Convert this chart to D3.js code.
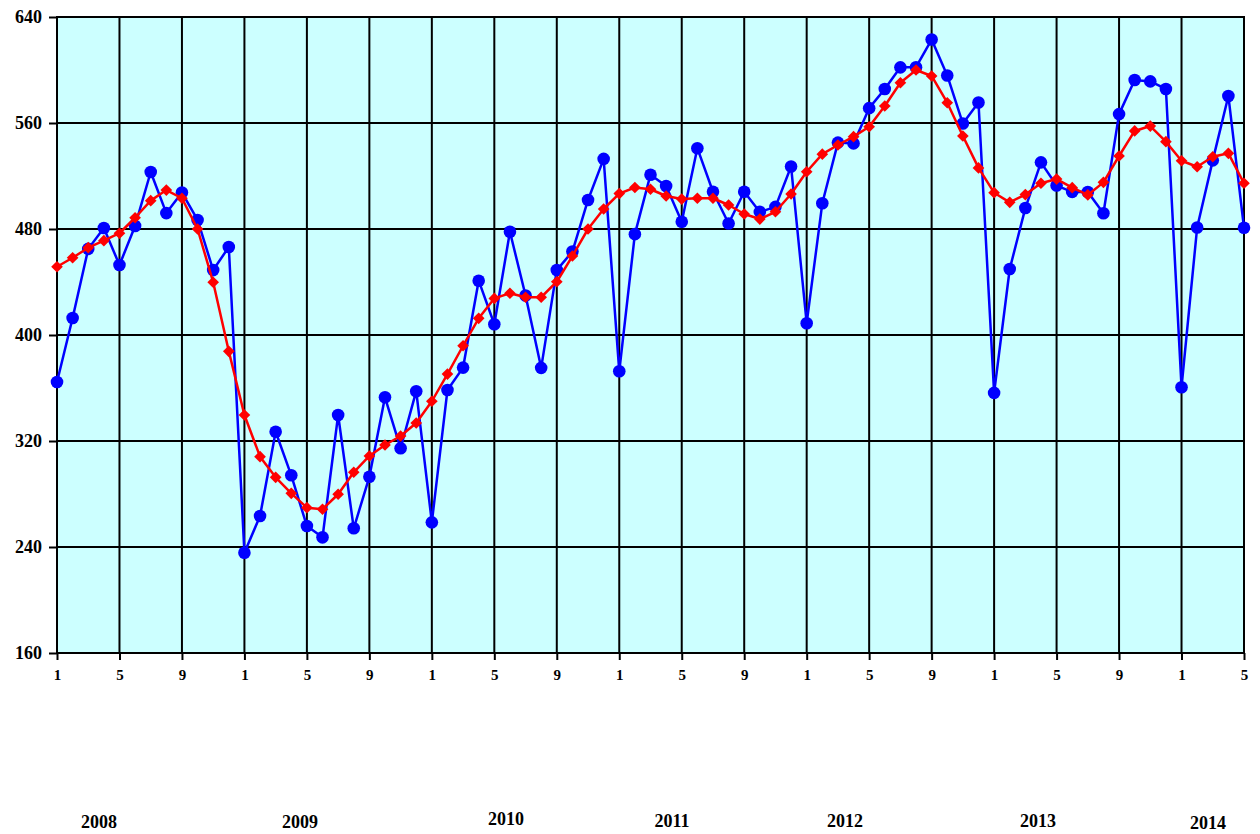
<!DOCTYPE html>
<html>
<head>
<meta charset="utf-8">
<script src="https://cdn.jsdelivr.net/npm/d3@7"></script>
<style>
  html, body { margin: 0; padding: 0; background: #ffffff; }
  svg { display: block; }
  text { font-family: "Liberation Serif", "Times New Roman", serif; font-weight: bold; fill: #000; }
</style>
</head>
<body>
<svg id="chart" width="1260" height="834"></svg>
<script>
// Monthly series, Jan 2008 – May 2014
const years = [2008, 2009, 2010, 2011, 2012, 2013, 2014];
const monthsInYear = [12, 12, 12, 12, 12, 12, 5];

// Monthly values (blue, circles)
const monthly = [
  364.5, 412.8, 465.0, 480.8, 452.8, 482.3, 523.0, 492.0, 507.5, 486.8, 449.0, 466.4,
  235.7, 263.4, 327.0, 294.1, 255.8, 247.3, 339.6, 254.1, 293.0, 353.0, 314.5, 357.6,
  258.6, 358.5, 375.4, 441.0, 408.1, 477.9, 429.8, 375.2, 449.0, 463.0, 501.9, 532.9,
  372.6, 476.1, 521.0, 512.5, 485.5, 541.0, 508.1, 484.1, 508.1, 492.9, 496.7, 527.2,
  408.9, 499.4, 545.2, 544.6, 571.2, 585.7, 602.0, 602.1, 623.0, 595.9, 559.6, 575.5,
  356.3, 449.8, 495.8, 530.3, 512.8, 508.0, 507.9, 491.9, 566.7, 592.5, 591.4, 585.7,
  360.6, 481.1, 531.8, 580.4, 480.9
];

// Smoothed trend (red, diamonds)
const trend = [
  451.5, 458.3, 465.9, 471.2, 476.8, 488.5, 501.4, 509.4, 503.2, 480.0, 439.8, 387.7,
  339.6, 308.2, 292.6, 280.5, 269.7, 268.5, 279.8, 296.4, 308.7, 317.0, 323.8, 333.6,
  350.0, 370.5, 391.9, 412.6, 427.6, 431.5, 428.5, 428.5, 440.2, 459.6, 480.0, 495.1,
  506.7, 511.3, 510.0, 504.9, 502.6, 503.2, 503.2, 498.1, 491.3, 487.5, 493.0, 506.4,
  523.2, 536.5, 543.4, 549.7, 557.2, 572.8, 590.4, 600.0, 595.5, 575.3, 550.2, 526.1,
  507.4, 500.1, 506.0, 514.5, 517.7, 511.2, 505.7, 515.2, 535.1, 554.0, 557.7, 545.9,
  531.5, 527.0, 534.5, 537.1, 514.5
];

const yTicks = [160, 240, 320, 400, 480, 560, 640];
const monthTickLabels = ["1", "5", "9"];

// ---- layout ----
const plot = { left: 57, right: 1244, top: 17, bottom: 653 };
const yearLabelPos = [
  { x: 99, y: 828 }, { x: 300, y: 828 }, { x: 506, y: 825 }, { x: 672, y: 827 },
  { x: 845, y: 827 }, { x: 1038, y: 827 }, { x: 1208, y: 829 }
];

const n = monthly.length;
const x = d3.scaleLinear().domain([0, n - 1]).range([plot.left, plot.right]);
const y = d3.scaleLinear().domain([160, 640]).range([plot.bottom, plot.top]);

const svg = d3.select("#chart");

// plot background
svg.append("rect")
  .attr("x", plot.left).attr("y", plot.top)
  .attr("width", plot.right - plot.left).attr("height", plot.bottom - plot.top)
  .attr("fill", "#ccffff");

// month index → label (every 4th month: 1, 5, 9)
const monthIdx = [];
let k = 0;
years.forEach((yr, yi) => {
  for (let m = 1; m <= monthsInYear[yi]; m++) {
    if (monthTickLabels.includes(String(m))) monthIdx.push({ i: k, label: String(m) });
    k++;
  }
});

// vertical grid
svg.append("g").selectAll("line").data(monthIdx).join("line")
  .attr("x1", d => x(d.i)).attr("x2", d => x(d.i))
  .attr("y1", plot.top).attr("y2", plot.bottom)
  .attr("stroke", "#000").attr("stroke-width", 2);

// horizontal grid
svg.append("g").selectAll("line").data(yTicks).join("line")
  .attr("x1", plot.left).attr("x2", plot.right)
  .attr("y1", d => y(d)).attr("y2", d => y(d))
  .attr("stroke", "#000").attr("stroke-width", 2);

// frame
svg.append("rect")
  .attr("x", plot.left).attr("y", plot.top)
  .attr("width", plot.right - plot.left).attr("height", plot.bottom - plot.top)
  .attr("fill", "none").attr("stroke", "#000").attr("stroke-width", 2);

// y axis
const yAxis = svg.append("g")
  .attr("transform", `translate(${plot.left},0)`)
  .call(d3.axisLeft(y).tickValues(yTicks).tickSize(8).tickPadding(7).tickFormat(d3.format("d")));
yAxis.select(".domain").remove();
yAxis.selectAll(".tick line").attr("stroke", "#000").attr("stroke-width", 2);
yAxis.selectAll(".tick text")
  .attr("font-family", "Liberation Serif, Times New Roman, serif")
  .attr("font-weight", "bold").attr("font-size", 18).attr("fill", "#000");

// x axis
const xAxis = svg.append("g")
  .attr("transform", `translate(0,${plot.bottom})`)
  .call(d3.axisBottom(x).tickValues(monthIdx.map(d => d.i)).tickSize(7).tickPadding(9)
    .tickFormat(i => monthIdx.find(d => d.i === i).label));
xAxis.select(".domain").remove();
xAxis.selectAll(".tick line").attr("stroke", "#000").attr("stroke-width", 2);
xAxis.selectAll(".tick text")
  .attr("font-family", "Liberation Serif, Times New Roman, serif")
  .attr("font-weight", "bold").attr("font-size", 15).attr("fill", "#000");

// year labels
svg.append("g").selectAll("text").data(years).join("text")
  .attr("x", (d, i) => yearLabelPos[i].x)
  .attr("y", (d, i) => yearLabelPos[i].y)
  .attr("text-anchor", "middle")
  .attr("font-size", 18)
  .text(d => d);

const line = d3.line().x((d, i) => x(i)).y(d => y(d));

// monthly series
svg.append("path").datum(monthly)
  .attr("d", line).attr("fill", "none")
  .attr("stroke", "#0000ff").attr("stroke-width", 2.5).attr("stroke-linejoin", "round");
svg.append("g").selectAll("circle").data(monthly).join("circle")
  .attr("cx", (d, i) => x(i)).attr("cy", d => y(d)).attr("r", 6.3)
  .attr("fill", "#0000ff");

// trend series
svg.append("path").datum(trend)
  .attr("d", line).attr("fill", "none")
  .attr("stroke", "#ff0000").attr("stroke-width", 2.5).attr("stroke-linejoin", "round");
// square markers turned 45° to read as diamonds
const diamond = d3.symbol().type(d3.symbolSquare).size(68);
svg.append("g").selectAll("path").data(trend).join("path")
  .attr("transform", (d, i) => `translate(${x(i)},${y(d)}) rotate(45)`)
  .attr("d", diamond)
  .attr("fill", "#ff0000");
</script>
</body>
</html>
